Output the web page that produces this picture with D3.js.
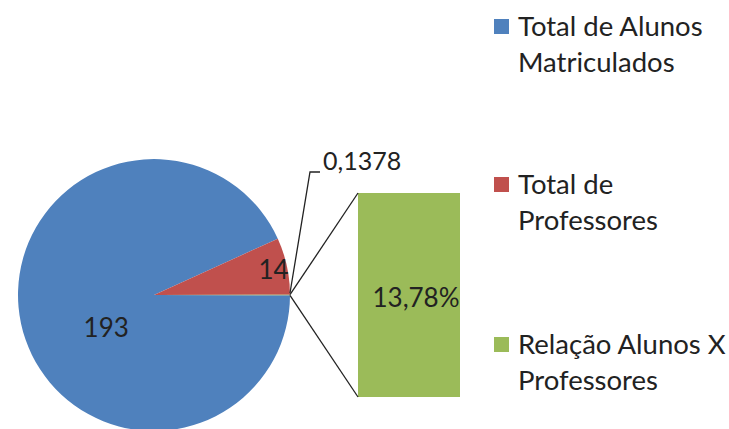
<!DOCTYPE html>
<html>
<head>
<meta charset="utf-8">
<script src="https://cdn.jsdelivr.net/npm/d3@7"></script>
<style>
  body { margin: 0; background: #fff; }
  svg text { font-family: Lato, "Noto Sans", sans-serif; fill: #222; }
</style>
</head>
<body>
<svg id="chart" width="729" height="429"></svg>
<script>
// data
const categories = ["Total de Alunos Matriculados", "Total de Professores", "Relação Alunos X Professores"];
const values = [193, 14, 0.1378];
const colors = ["#4F81BD", "#C0504D", "#9BBB59"];
const legendLines = [["Total de Alunos", "Matriculados"], ["Total de", "Professores"], ["Relação Alunos X", "Professores"]];
const splitIndex = 2; // the slice moved out to the bar

const svg = d3.select("#chart");
const cx = 154, cy = 295, r = 136;
const fontSize = 26;
const legendFont = 27.5;

const total = d3.sum(values);
const gAngle = values[splitIndex] / total * 2 * Math.PI;
// split slice centered at 3 o'clock, others run clockwise before it
const endA = Math.PI / 2 + gAngle / 2;
const pie = d3.pie().sort(null).value(d => d)
  .startAngle(endA - 2 * Math.PI).endAngle(endA);
const arcs = pie(values);
const arc = d3.arc().innerRadius(0).outerRadius(r);

const gPie = svg.append("g").attr("transform", `translate(${cx},${cy})`);
gPie.selectAll("path")
  .data(arcs)
  .enter().append("path")
    .attr("d", arc)
    .attr("fill", (d, i) => colors[i]);

// pie labels
const fmtNum = d3.formatLocale({decimal: ",", thousands: ".", grouping: [3], currency: ["", ""], percent: "%"});
const labelR = [0.42, 0.9];
[0, 1].forEach(i => {
  const la = d3.arc().innerRadius(r * labelR[i]).outerRadius(r * labelR[i]);
  const [lx, ly] = la.centroid(arcs[i]);
  let dx = 0, dy = 0;
  if (i === 0) { dx = 8; dy = 20; }
  gPie.append("text")
    .attr("x", lx + dx).attr("y", ly + dy)
    .attr("text-anchor", "middle")
    .attr("dominant-baseline", "central")
    .style("font-size", fontSize + "px")
    .text(values[i]);
});

// bar of the split slice
const barX0 = 358, barW = 102, barTop = 193, barBottom = 397;
const y = d3.scaleLinear().domain([0, values[splitIndex]]).range([barBottom, barTop]);
svg.append("rect")
  .attr("x", barX0).attr("y", y(values[splitIndex]))
  .attr("width", barW).attr("height", y(0) - y(values[splitIndex]))
  .attr("fill", colors[splitIndex]);

svg.append("text")
  .attr("x", barX0 + barW / 2 + 7)
  .attr("y", (y(0) + y(values[splitIndex])) / 2 + 2)
  .attr("text-anchor", "middle")
  .attr("dominant-baseline", "central")
  .style("font-size", fontSize + "px")
  .text(fmtNum.format(".2%")(values[splitIndex]));

// connector lines from pie edge to bar corners
const ga = arcs[splitIndex];
const edge = a => [cx + r * Math.sin(a), cy - r * Math.cos(a)];
const pStart = edge(ga.startAngle), pEnd = edge(ga.endAngle);
svg.append("line")
  .attr("x1", pStart[0]).attr("y1", pStart[1])
  .attr("x2", barX0).attr("y2", y(values[splitIndex]))
  .attr("stroke", "#222").attr("stroke-width", 1.3);
svg.append("line")
  .attr("x1", pEnd[0]).attr("y1", pEnd[1])
  .attr("x2", barX0).attr("y2", y(0))
  .attr("stroke", "#222").attr("stroke-width", 1.3);

// leader line + label for the tiny slice
const mid = edge((ga.startAngle + ga.endAngle) / 2);
const lead = [[mid[0], mid[1] - 2], [mid[0] + 20, 172], [mid[0] + 30, 172]];
svg.append("path")
  .attr("d", d3.line()(lead))
  .attr("fill", "none").attr("stroke", "#222").attr("stroke-width", 1.3);
svg.append("text")
  .attr("x", mid[0] + 33).attr("y", 170)
  .style("font-size", (fontSize - 1) + "px")
  .text(fmtNum.format(",")(values[splitIndex]));

// legend
const legendY = [36, 194, 354];
const lg = svg.append("g").attr("class", "legend");
categories.forEach((c, i) => {
  lg.append("rect")
    .attr("x", 494).attr("y", legendY[i] - 17)
    .attr("width", 15).attr("height", 15)
    .attr("fill", colors[i]);
  const t = lg.append("text")
    .attr("x", 518).attr("y", legendY[i])
    .style("font-size", legendFont + "px");
  legendLines[i].forEach((ln, j) => {
    t.append("tspan").attr("x", 518).attr("dy", j === 0 ? 0 : 36).text(ln);
  });
});
</script>
</body>
</html>
